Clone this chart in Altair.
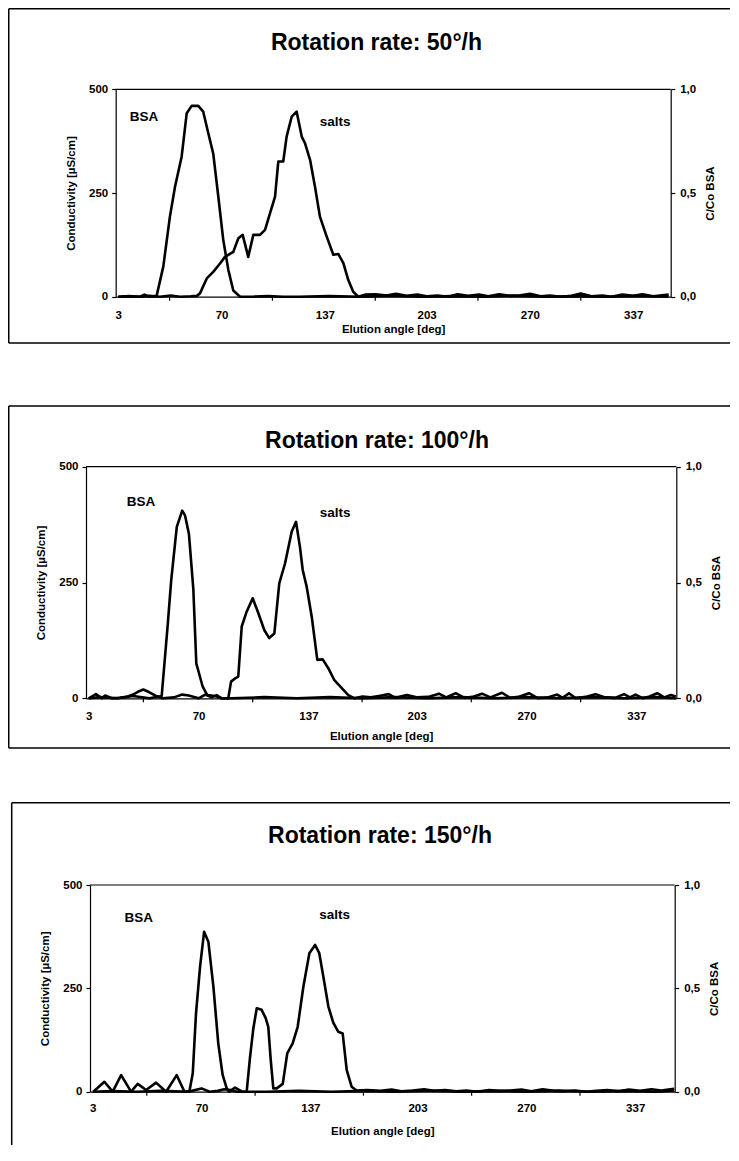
import altair as alt
import pandas as pd

FONT = "Liberation Sans"

panel_titles = ["Rotation rate: 50°/h", "Rotation rate: 100°/h", "Rotation rate: 150°/h"]
x_tick_values = [3, 70, 137, 203, 270, 337]
x_minor_ticks = [36.3, 103, 169.7, 236.3, 303]
x_domain = [1.33, 361.33]
cond_ticks = [0, 250, 500]
ratio_ticks = [0, 0.5, 1.0]
label_names = ["BSA", "salts"]

# ---------------- panel 1 : 50 deg/h ----------------
salts1_deg = [3, 10, 17, 23, 30, 37, 43, 50, 54, 56, 60.4, 64.6, 69, 72.2, 77.6, 80.9, 83.7, 87.3, 90.6,
              94.9, 98.2, 101.4, 104.7, 106.8, 110, 112.2, 115.5, 118.7, 122, 124.1, 127.4, 130.6, 133.8,
              138.2, 142.5, 145.7, 149, 152.2, 155.4, 158.7, 163, 170, 177, 183, 190, 197, 203, 210, 217,
              223, 230, 237, 243, 250, 257, 263, 270, 277, 283, 290, 297, 303, 310, 317, 323, 330, 337,
              343, 350, 357, 360]
salts1_val = [0, 1, 0, 2, 0, 3, 0, 1, 2, 8, 44, 60, 80, 96, 108, 141, 149, 96, 149,
              149, 161, 201, 241, 326, 326, 386, 434, 446, 386, 370, 330, 265, 193,
              145, 101, 103, 81, 40, 12, 0, 5, 6, 3, 7, 2, 5, 1, 3, 0,
              6, 2, 5, 1, 6, 2, 3, 7, 1, 3, 0, 2, 8, 1, 3, 0, 5, 2,
              6, 1, 4, 5]
bsa1_deg = [3, 10, 17, 20, 23, 27.9, 32.2, 36.5, 39.8, 44.1, 47.4, 50.6, 54.9, 58.1, 61.4, 64.6, 67.9,
            71.1, 74.4, 77.6, 82, 90, 100, 110, 120, 140, 160, 180, 200, 220, 240, 260, 280, 300, 320,
            340, 360]
bsa1_val = [0, 0.003, 0, 0.01, 0, 0.005, 0.145, 0.386, 0.53, 0.675, 0.885, 0.92, 0.92, 0.892, 0.788,
            0.69, 0.482, 0.274, 0.129, 0.03, 0, 0, 0.003, 0, 0, 0.003, 0, 0.005, 0, 0.003, 0, 0.005, 0,
            0.003, 0, 0.004, 0]
label1_deg = [19.7, 143.7]
label1_val = [433, 421]

# ---------------- panel 2 : 100 deg/h ----------------
salts2_deg = [3, 7.4, 11, 13, 17, 22, 26, 30, 33, 36.3, 40, 44, 48, 55, 60, 64, 70, 74, 78, 81, 84,
              88.1, 89.8, 92.2, 94.2, 96.3, 99.3, 103, 106.4, 110.1, 113.1, 116.2, 119.2, 122.7, 126.8,
              129.4, 131.8, 133.5, 135.9, 139, 142.4, 145.7, 149.1, 152.8, 157.3, 161.3, 165, 170, 175,
              180, 186, 190, 197, 203, 210, 216.6, 221, 226.8, 232, 237, 242.8, 248, 255, 260, 265,
              271.5, 277, 283, 288.7, 292, 295.9, 300, 306, 312, 318, 324, 329.5, 333, 336.5, 341, 345,
              349.7, 354, 358, 361]
salts2_val = [0, 9, 0, 6, 0, 1, 3, 8, 14, 19, 13, 5, 0, 2, 8, 6, 0, 8, 2, 7, 0,
              0, 36, 43, 47, 155, 187, 216, 184, 147, 130, 140, 248, 291, 360,
              381, 327, 277, 241, 176, 83, 84, 65, 39, 22, 7, 0, 4, 2,
              5, 9, 1, 7, 2, 3, 10, 2, 11, 1, 3, 10, 2, 12, 1, 3,
              11, 0, 2, 8, 1, 11, 0, 3, 9, 2, 1, 9, 2, 8, 0, 4,
              11, 2, 7, 4]
bsa2_deg = [3, 10, 20, 30, 40, 47.5, 51.2, 53.3, 56.7, 60, 61.7, 64.1, 66.8, 68.6, 69.8, 72.5, 75.3,
            80, 84, 90, 110, 130, 150, 170, 190, 210, 230, 250, 270, 290, 310, 330, 350, 361]
bsa2_val = [0, 0.005, 0, 0.01, 0, 0.01, 0.32, 0.51, 0.74, 0.81, 0.79, 0.71, 0.47, 0.15, 0.12, 0.05,
            0.014, 0.01, 0, 0, 0.005, 0, 0.005, 0, 0.005, 0, 0.005, 0, 0.005, 0, 0.005, 0, 0.005, 0]
label2_deg = [34.9, 153.2]
label2_val = [424, 401]

# ---------------- panel 3 : 150 deg/h ----------------
salts3_deg = [3.4, 10.2, 15.3, 20.5, 26.6, 30.7, 35.9, 42, 48.2, 54.7, 59.5, 64, 70, 75, 80, 84, 88, 92,
              97.8, 99.8, 101.9, 104, 107, 109.5, 111.1, 112.6, 114.2, 116.3, 120, 122.8, 126.1, 129.2,
              132.7, 136.4, 139.9, 142.5, 145, 148.1, 151.1, 154.2, 156.9, 159.4, 162.4, 165.5, 172,
              180, 187, 193, 200, 207, 213, 220, 227, 233, 240, 247, 253, 260, 267, 273, 280, 287, 293,
              300, 307, 313, 320, 327, 333, 340, 347, 353, 361]
salts3_val = [0, 24, 0, 40, 0, 19, 4, 22, 0, 40, 0, 2, 8, 0, 2, 6, 4, 0,
              0, 81, 153, 202, 198, 178, 157, 77, 8, 8, 19, 93, 117, 157,
              254, 335, 355, 335, 278, 206, 167, 145, 141, 52, 12, 3, 4,
              2, 5, 1, 3, 6, 2, 4, 1, 3, 0, 4, 2, 3, 5, 1, 6, 2, 1,
              3, 0, 2, 4, 1, 5, 2, 6, 3, 7]
bsa3_deg = [3, 15, 30, 45, 62.5, 64.6, 66.6, 69.1, 71.6, 74.2, 77.3, 80.3, 83, 85.5, 87, 90.6, 95,
            110, 130, 150, 170, 190, 210, 230, 250, 270, 290, 310, 330, 350, 361]
bsa3_val = [0, 0.003, 0, 0.004, 0, 0.089, 0.379, 0.605, 0.774, 0.726, 0.508, 0.234, 0.081, 0.016, 0,
            0.02, 0, 0, 0.004, 0, 0.004, 0, 0.006, 0, 0.004, 0, 0.005, 0, 0.004, 0, 0.006]
label3_deg = [31.3, 152]
label3_val = [419, 427]

# ---------------- layout: each panel is a 723-px-wide slot; plot box placed inside ----------------
GW = 723
layouts = [
    dict(GH=367, a=107.7, t=81.3, W=555, H=207.4, tx=368.5, ty=42, xlp=13, xtp=2,
         fl=0.75, ft=0.75, fb=335, bottom_line=True),
    dict(GH=395, a=78, t=91.7, W=590.3, H=231.6, tx=369, ty=73, xlp=12, xtp=9,
         fl=0.75, ft=31, fb=373, bottom_line=True),
    dict(GH=375, a=82, t=115, W=584.7, H=206.7, tx=372, ty=73.3, xlp=11, xtp=11,
         fl=3.7, ft=32.7, fb=375, bottom_line=False),
]

one = pd.DataFrame({"k": [0]})


def hrule(y, x1, x2, sw=1.5):
    return alt.Chart(one).mark_rule(color="black", strokeWidth=sw).encode(
        x=alt.value(x1), x2=alt.value(x2), y=alt.value(y))


def vrule(x, y1, y2, sw=1.5):
    return alt.Chart(one).mark_rule(color="black", strokeWidth=sw).encode(
        x=alt.value(x), y=alt.value(y1), y2=alt.value(y2))


def panel(title, sd, sv, bd, bv, ld, lv, lay):
    a, t, W, H, GH = lay["a"], lay["t"], lay["W"], lay["H"], lay["GH"]
    right, bottom = a + W, t + H
    xscale = alt.Scale(domain=x_domain, range=[a, right], nice=False, zero=False)
    xaxis = alt.Axis(values=x_tick_values, title="Elution angle [deg]", ticks=False, tickSize=0,
                     labelPadding=lay["xlp"], titlePadding=lay["xtp"], grid=False,
                     labelFlush=False, labelOverlap=False, format="d", offset=-(GH - bottom))
    cscale = alt.Scale(domain=[0, 500], range=[bottom, t], nice=False, zero=True)
    yaxis = alt.Axis(values=cond_ticks, title="Conductivity [µS/cm]", orient="left", tickSize=4,
                     labelPadding=4, titlePadding=12, grid=False, labelFlush=False, offset=-a)

    salts_df = pd.DataFrame({"deg": sd, "cond": sv})
    bsa_df = pd.DataFrame({"deg": bd, "cc": bv})
    lab_df = pd.DataFrame({"deg": ld, "cond": lv, "name": label_names})
    minor_df = pd.DataFrame({"deg": x_minor_ticks})

    salts = alt.Chart(salts_df).mark_line(color="black", strokeWidth=2.6, strokeJoin="round").encode(
        x=alt.X("deg:Q", scale=xscale, axis=xaxis),
        y=alt.Y("cond:Q", scale=cscale, axis=yaxis),
    )
    labels = alt.Chart(lab_df).mark_text(font=FONT, fontSize=13.5, fontWeight="bold", color="black",
                                         align="center", baseline="middle").encode(
        x=alt.X("deg:Q", scale=xscale),
        y=alt.Y("cond:Q", scale=cscale),
        text="name:N",
    )
    minor = alt.Chart(minor_df).mark_rule(color="black", strokeWidth=1.2).encode(
        x=alt.X("deg:Q", scale=xscale), y=alt.value(bottom), y2=alt.value(bottom + 4))
    ttl = alt.Chart(pd.DataFrame({"t": [title]})).mark_text(
        font=FONT, fontSize=23, fontWeight="bold", color="black", align="center",
        baseline="alphabetic").encode(text="t:N", x=alt.value(lay["tx"]), y=alt.value(lay["ty"]))

    deco = [
        hrule(lay["ft"], lay["fl"], GW - 1),
        vrule(lay["fl"], lay["ft"], lay["fb"]),
        hrule(t, a, right, sw=1.2),
    ]
    if lay["bottom_line"]:
        deco.append(hrule(lay["fb"], lay["fl"], GW - 1))

    inner = alt.layer(*deco, ttl, minor, salts, labels)

    bsa = alt.Chart(bsa_df).mark_line(color="black", strokeWidth=2.6, strokeJoin="round").encode(
        x=alt.X("deg:Q", scale=xscale, axis=xaxis),
        y=alt.Y("cc:Q", scale=alt.Scale(domain=[0, 1], range=[bottom, t], nice=False, zero=True),
                axis=alt.Axis(orient="right", values=ratio_ticks, title="C/Co BSA",
                              labelExpr="replace(format(datum.value, '.1f'), '.', ',')",
                              tickSize=4, labelPadding=5, titlePadding=9, titleAngle=270,
                              titleBaseline="top", grid=False, labelFlush=False,
                              offset=-(GW - right))),
    )
    return alt.layer(inner, bsa).resolve_scale(y="independent").properties(width=GW, height=GH)


p1 = panel(panel_titles[0], salts1_deg, salts1_val, bsa1_deg, bsa1_val, label1_deg, label1_val, layouts[0])
p2 = panel(panel_titles[1], salts2_deg, salts2_val, bsa2_deg, bsa2_val, label2_deg, label2_val, layouts[1])
p3 = panel(panel_titles[2], salts3_deg, salts3_val, bsa3_deg, bsa3_val, label3_deg, label3_val, layouts[2])

chart = alt.vconcat(p1, p2, p3, spacing=0, bounds="flush").properties(padding=0).configure_view(
    strokeOpacity=0
).configure_axis(
    domainColor="black", tickColor="black", labelColor="black", titleColor="black",
    labelFont=FONT, titleFont=FONT, labelFontSize=11.5, titleFontSize=11.5,
    labelFontWeight="bold", titleFontWeight="bold", domainWidth=1.2, tickWidth=1.2,
)

chart.save("out.html", embed_options={"renderer": "svg", "actions": False})
